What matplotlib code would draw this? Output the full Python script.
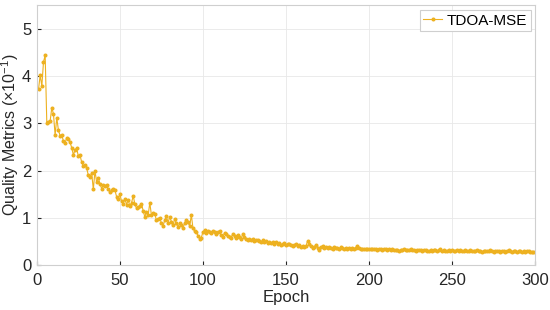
import matplotlib
matplotlib.use("Agg")
import matplotlib.pyplot as plt
import numpy as np

plt.rcParams["font.family"] = ["Liberation Sans", "DejaVu Sans"]
plt.rcParams["mathtext.default"] = "regular"

# ── Data ──────────────────────────────────────────────────────────────────────
mse = [
    3.72, 4.02, 3.79, 4.30, 4.44, 3.00, 3.03, 3.05, 3.33, 3.20,
    2.75, 3.12, 2.85, 2.74, 2.76, 2.62, 2.58, 2.70, 2.66, 2.60,
    2.48, 2.33, 2.44, 2.47, 2.30, 2.32, 2.18, 2.10, 2.12, 2.05,
    1.90, 1.87, 1.95, 1.60, 2.00, 1.75, 1.85, 1.72, 1.62, 1.70,
    1.68, 1.70, 1.60, 1.55, 1.58, 1.62, 1.58, 1.45, 1.40, 1.50,
    1.35, 1.30, 1.40, 1.28, 1.38, 1.25, 1.32, 1.46, 1.30, 1.20,
    1.22, 1.25, 1.30, 1.15, 1.02, 1.12, 1.05, 1.32, 1.05, 1.10,
    1.08, 0.95, 0.98, 1.00, 0.88, 0.83, 0.95, 1.03, 0.90, 1.02,
    0.92, 0.85, 0.98, 0.88, 0.80, 0.90, 0.85, 0.78, 0.90, 0.95,
    0.92, 0.82, 1.06, 0.78, 0.72, 0.70, 0.62, 0.56, 0.58, 0.70,
    0.74, 0.68, 0.72, 0.70, 0.68, 0.72, 0.70, 0.66, 0.70, 0.72,
    0.64, 0.60, 0.68, 0.66, 0.62, 0.60, 0.58, 0.66, 0.62, 0.58,
    0.64, 0.60, 0.56, 0.66, 0.60, 0.55, 0.53, 0.56, 0.52, 0.55,
    0.50, 0.52, 0.54, 0.50, 0.49, 0.52, 0.48, 0.50, 0.47, 0.49,
    0.46, 0.48, 0.45, 0.48, 0.44, 0.46, 0.43, 0.45, 0.46, 0.42,
    0.44, 0.45, 0.42, 0.40, 0.43, 0.44, 0.40, 0.42, 0.39, 0.41,
    0.38, 0.40, 0.51, 0.45, 0.40, 0.37, 0.38, 0.42, 0.36, 0.32,
    0.38, 0.40, 0.36, 0.38, 0.37, 0.39, 0.36, 0.35, 0.38, 0.36,
    0.37, 0.35, 0.38, 0.36, 0.34, 0.37, 0.35, 0.36, 0.34, 0.36,
    0.35, 0.37, 0.40, 0.36, 0.34, 0.35, 0.33, 0.34, 0.35, 0.33,
    0.34, 0.33, 0.35, 0.33, 0.32, 0.34, 0.33, 0.32, 0.33, 0.34,
    0.32, 0.33, 0.31, 0.33, 0.32, 0.31, 0.32, 0.30, 0.32, 0.31,
    0.33, 0.32, 0.31, 0.32, 0.33, 0.31, 0.32, 0.30, 0.31, 0.32,
    0.31, 0.30, 0.32, 0.31, 0.30, 0.29, 0.31, 0.30, 0.32, 0.31,
    0.30, 0.31, 0.33, 0.30, 0.31, 0.29, 0.30, 0.32, 0.30, 0.31,
    0.30, 0.29, 0.31, 0.30, 0.32, 0.30, 0.29, 0.31, 0.30, 0.29,
    0.31, 0.30, 0.29, 0.30, 0.31, 0.29, 0.30, 0.28, 0.30, 0.29,
    0.30, 0.29, 0.31, 0.29, 0.28, 0.30, 0.29, 0.30, 0.28, 0.29,
    0.30, 0.28, 0.29, 0.31, 0.29, 0.28, 0.30, 0.29, 0.28, 0.29,
    0.30, 0.28, 0.29, 0.28, 0.30, 0.29, 0.28, 0.27, 0.28, 0.27,
]
epochs = np.arange(1, len(mse) + 1)
x_ticks = [0, 50, 100, 150, 200, 250, 300]
y_ticks = [0, 1, 2, 3, 4, 5]

# ── Plot ──────────────────────────────────────────────────────────────────────
fig = plt.figure(figsize=(5.5, 3.1), dpi=100)
ax = fig.add_axes([0.067, 0.145, 0.906, 0.838])

ax.plot(epochs, mse, color="#EDB120", lw=0.8, marker="o", ms=1.9,
        label="TDOA-MSE")

ax.set_xlim(0, 300)
ax.set_ylim(0, 5.5)
ax.set_xticks(x_ticks)
ax.set_yticks(y_ticks)
ax.grid(True, color="#e8e8e8", lw=0.6)
ax.tick_params(direction="in", length=3, labelsize=12, color="#262626",
               labelcolor="#262626")
ax.tick_params(axis="x", pad=6)
ax.tick_params(axis="y", pad=4)
for s in ax.spines.values():
    s.set_color("#cfcfcf")
    s.set_linewidth(0.8)

ax.set_xlabel("Epoch", fontsize=12, color="#262626", labelpad=1)
ax.set_ylabel(r"Quality Metrics (×10$^{-1}$)", fontsize=11.5, color="#262626",
              labelpad=1)

leg = ax.legend(loc="upper right", fontsize=11, handlelength=1.2,
                handletextpad=0.3, borderpad=0.25, borderaxespad=0.3,
                fancybox=False, framealpha=1)
leg.get_frame().set_edgecolor("#cfcfcf")
leg.get_frame().set_linewidth(0.8)

fig.savefig("out.png", dpi=100)
